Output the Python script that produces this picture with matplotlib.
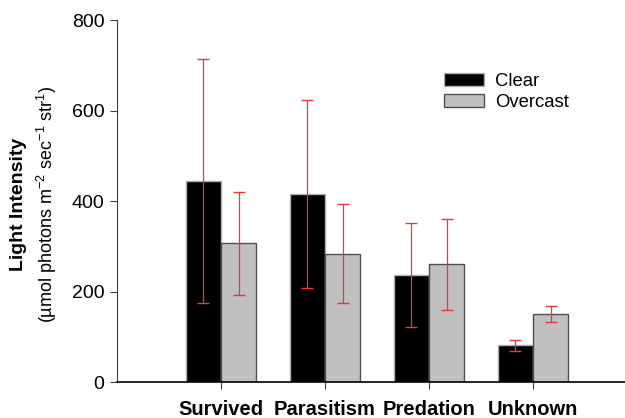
import matplotlib
matplotlib.use("Agg")
import matplotlib.pyplot as plt
import numpy as np

plt.rcParams['font.family'] = ['Liberation Sans', 'DejaVu Sans']
plt.rcParams['mathtext.default'] = 'regular'

categories = ["Survived", "Parasitism", "Predation", "Unknown"]
clear_mean = [444, 416, 236, 81]
clear_err = [270, 208, 115, 12]
overcast_mean = [307, 284, 260, 150]
overcast_err = [114, 110, 101, 18]

fig = plt.figure(figsize=(6.25, 4.18), dpi=100)
ax = fig.add_axes([0.1872, 0.0861, 0.8128, 0.8660])

x = np.arange(1, len(categories) + 1)
w = 0.335
ax.bar(x - w / 2 - 0.004, clear_mean, w, color="black", edgecolor="#b0b0b0", linewidth=1.0,
       label="Clear", zorder=2)
ax.bar(x + w / 2 + 0.004, overcast_mean, w, color="#c0c0c0", edgecolor="#505050", linewidth=1.0,
       label="Overcast", zorder=2)
ax.errorbar(x - w / 2 - 0.004, clear_mean, yerr=clear_err, fmt="none", ecolor="#e8383a",
            elinewidth=0.9, capsize=4, capthick=1.0, zorder=3)
ax.errorbar(x + w / 2 + 0.004, overcast_mean, yerr=overcast_err, fmt="none", ecolor="#e8383a",
            elinewidth=0.9, capsize=4, capthick=1.0, zorder=3)

ax.set_xlim(0, 4.885)
ax.set_ylim(0, 800)
ax.set_yticks([0, 200, 400, 600, 800])
ax.set_xticks(x)
ax.set_xticklabels(categories, fontsize=14.5, fontweight="bold")
ax.tick_params(axis="y", labelsize=14, direction="out", length=5, width=0.8, color="#404040", pad=4)
ax.tick_params(axis="x", direction="out", length=5, width=0.8, color="#404040", pad=8)
for s in ["top", "right"]:
    ax.spines[s].set_visible(False)
ax.spines["left"].set_color("#404040")
ax.spines["left"].set_linewidth(0.8)
ax.spines["bottom"].set_color("black")
ax.spines["bottom"].set_linewidth(1.2)

fig.text(0.029, 0.51, "Light Intensity", rotation=90, ha="center", va="center",
         fontsize=14, fontweight="bold")
fig.text(0.075, 0.51, "(\u00b5mol photons m$^{-2}$ sec$^{-1}$ str$^{1}$)", rotation=90,
         ha="center", va="center", fontsize=13)

ax.legend(loc="upper left", bbox_to_anchor=(0.61, 0.90), frameon=False, fontsize=13.3,
          handlelength=2.2, handleheight=0.7, handletextpad=0.6, labelspacing=0.2)

fig.savefig("out.png", dpi=100)
